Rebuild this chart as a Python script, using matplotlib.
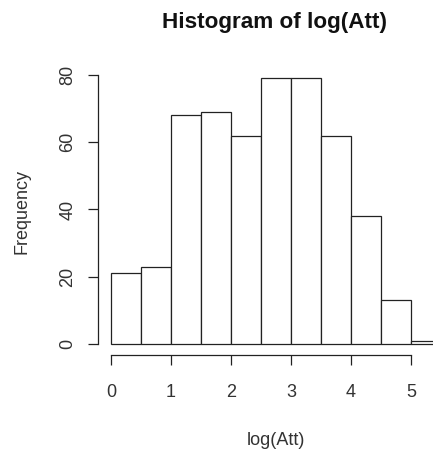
import matplotlib
matplotlib.use("Agg")
import matplotlib.pyplot as plt
import numpy as np

# bin edges and counts for log(Att)
bin_edges = [0.0, 0.5, 1.0, 1.5, 2.0, 2.5, 3.0, 3.5, 4.0, 4.5, 5.0, 5.5]
counts = [21, 23, 68, 69, 62, 79, 79, 62, 38, 13, 1]
x_ticks = [0, 1, 2, 3, 4, 5]
y_ticks = [0, 20, 40, 60, 80]

plt.rcParams['font.family'] = ['Liberation Sans', 'DejaVu Sans']

fig = plt.figure(figsize=(4.33, 4.49), dpi=100)
# R-style plot region; it runs past the right edge of the figure
ax = fig.add_axes([0.2259, 0.2102, 0.8226, 0.639])

left = np.array(bin_edges[:-1])
widths = np.diff(bin_edges)
ax.bar(left, counts, width=widths, align='edge', color='white',
       edgecolor='#222222', linewidth=0.9)

ax.set_xlim(-0.22, 5.72)
ax.set_ylim(-3.16, 82.16)

for s in ['top', 'right']:
    ax.spines[s].set_visible(False)
ax.spines['bottom'].set_bounds(0, 5)
ax.spines['left'].set_bounds(0, 80)
for s in ['bottom', 'left']:
    ax.spines[s].set_linewidth(0.9)
    ax.spines[s].set_color('#222222')

ax.set_xticks(x_ticks)
ax.set_yticks(y_ticks)
ax.tick_params(axis='both', direction='out', length=7.5, width=0.9,
               color='#222222', labelsize=13, labelcolor='#333333')
ax.tick_params(axis='x', pad=14)
ax.tick_params(axis='y', pad=8)
for lab in ax.get_yticklabels():
    lab.set_rotation(90)
    lab.set_va('center')

ax.set_xlabel('log(Att)', fontsize=13, color='#333333', labelpad=22)
ax.set_ylabel('Frequency', fontsize=13, color='#333333', labelpad=21)

fig.text(0.635, 0.949, 'Histogram of log(Att)', ha='center', va='center',
         fontsize=16.2, fontweight='bold', color='#111111')

fig.savefig('out.png', dpi=100)
